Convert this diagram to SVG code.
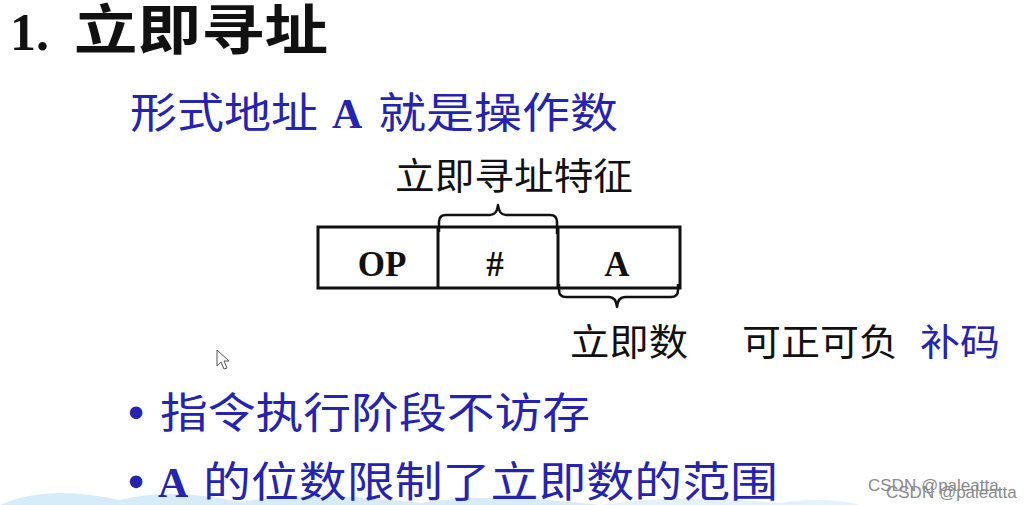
<svg xmlns="http://www.w3.org/2000/svg" width="1029" height="505" viewBox="0 0 1029 505">
<style>
.cjk{font-family:"Liberation Serif","Noto Sans CJK SC",serif;}
.blue{fill:#2424b0;}
.blk{fill:#111;}
.b{font-weight:bold;}
.box{fill:none;stroke:#111;stroke-width:3;}
.brace{fill:none;stroke:#111;stroke-width:2.5;stroke-linejoin:round;}
.wm{font-family:"Liberation Sans","Noto Sans CJK SC",sans-serif;font-size:17px;fill:#8a8a8a;}
</style>
<rect width="1029" height="505" fill="#ffffff"/>
<g id="bg">
<path d="M0 505 C40 488 80 492 120 500 C160 490 200 494 240 502 C300 492 360 496 420 503 C480 494 540 498 600 505 Z" fill="#d6ecf8"/>
<path d="M600 505 C660 496 720 498 780 503 C810 498 840 500 860 505 Z" fill="#e2f1fa"/>
</g>
<g id="title">
<text class="cjk blk b" x="10" y="50" font-size="52">1.</text>
<text class="cjk blk b" x="74" y="50" font-size="54" textLength="254" lengthAdjust="spacingAndGlyphs">立即寻址</text>
</g>
<g id="subtitle">
<text class="cjk blue" x="130" y="128" font-size="42" textLength="188" lengthAdjust="spacingAndGlyphs">形式地址</text>
<text class="cjk blue b" x="332" y="128" font-size="42">A</text>
<text class="cjk blue" x="378" y="128" font-size="42" textLength="240" lengthAdjust="spacingAndGlyphs">就是操作数</text>
</g>
<g id="feature-label">
<text class="cjk blk" x="395" y="190" font-size="37" textLength="238" lengthAdjust="spacingAndGlyphs">立即寻址特征</text>
</g>
<g id="instruction-box">
<rect class="box" x="318" y="227" width="362" height="61"/>
<line class="box" x1="438" y1="227" x2="438" y2="288"/>
<line class="box" x1="558" y1="227" x2="558" y2="288"/>
<text class="cjk blk b" x="382" y="276" font-size="35" text-anchor="middle">OP</text>
<text class="cjk blk b" x="495" y="276" font-size="35" text-anchor="middle">#</text>
<text class="cjk blk b" x="617" y="276" font-size="35" text-anchor="middle">A</text>
</g>
<g id="connectors">
<path class="brace" d="M439 232 L439 222 Q439 215 446 215 L490 215 Q497 215 498 205 Q499 215 506 215 L550 215 Q557 215 557 222 L557 234"/>
<path class="brace" d="M559 284 L559 290 Q559 297 566 297 L609 297 Q616 297 617 307 Q618 297 625 297 L671 297 Q678 297 678 290 L678 284"/>
</g>
<g id="immediate-label">
<text class="cjk blk" x="570" y="356" font-size="37" textLength="118" lengthAdjust="spacingAndGlyphs">立即数</text>
<text class="cjk blk" x="742" y="356" font-size="37" textLength="156" lengthAdjust="spacingAndGlyphs">可正可负</text>
<text class="cjk blue" x="920" y="356" font-size="37" textLength="80" lengthAdjust="spacingAndGlyphs">补码</text>
</g>
<g id="bullet1">
<text class="cjk blue b" x="128" y="428" font-size="46">•</text>
<text class="cjk blue" x="160" y="428" font-size="42" textLength="430" lengthAdjust="spacingAndGlyphs">指令执行阶段不访存</text>
</g>
<g id="bullet2">
<text class="cjk blue b" x="128" y="497" font-size="46">•</text>
<text class="cjk blue b" x="158" y="497" font-size="42">A</text>
<text class="cjk blue" x="203" y="497" font-size="42" textLength="575" lengthAdjust="spacingAndGlyphs">的位数限制了立即数的范围</text>
</g>
<g id="cursor">
<path d="M217 350 L217 366 L221 362 L224 369 L227 368 L224 361 L229 361 Z" fill="#fff" stroke="#555" stroke-width="1"/>
</g>
<g id="watermark">
<text class="wm" x="868" y="491">CSDN @paleatta</text>
<text class="wm" x="886" y="498">CSDN @paleatta</text>
</g>
</svg>
